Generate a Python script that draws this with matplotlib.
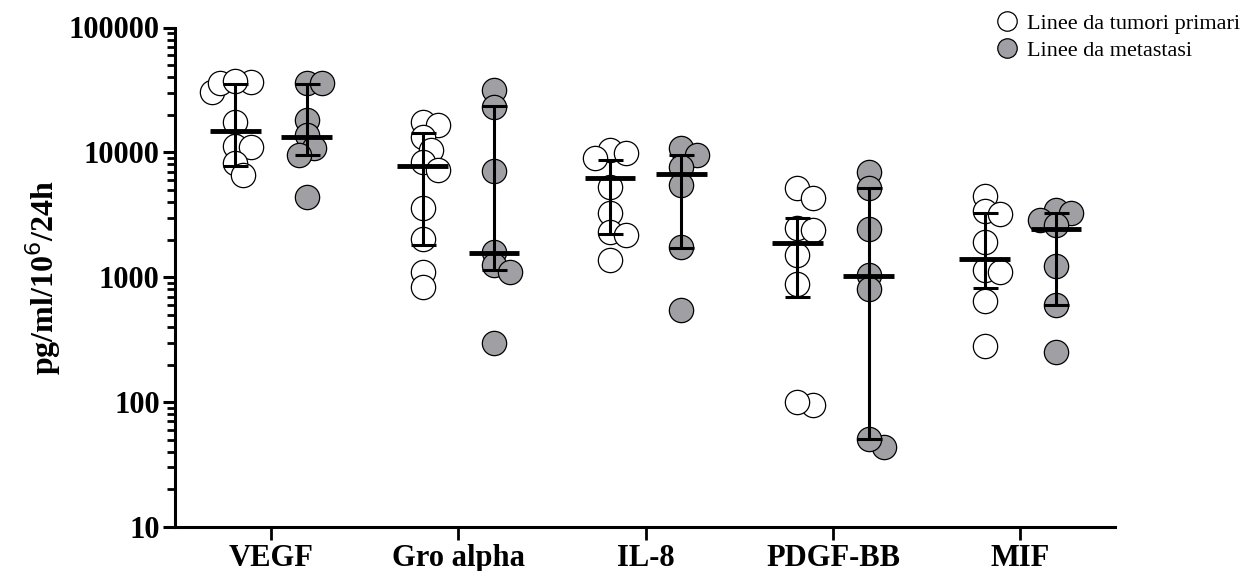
import matplotlib
matplotlib.use("Agg")
import matplotlib.pyplot as plt
import numpy as np
from matplotlib.lines import Line2D
from matplotlib.ticker import LogLocator, NullFormatter, FixedLocator

plt.rcParams['font.family'] = ['Liberation Serif', 'DejaVu Serif']

categories = ["VEGF", "Gro alpha", "IL-8", "PDGF-BB", "MIF"]

# singole linee cellulari (pg/ml/10^6/24h)
primari = [
    [30400, 36600, 36000, 37000, 17500, 11200, 11000, 8200, 6600],
    [17600, 16500, 13300, 10400, 8400, 7200, 3560, 2010, 1100, 840],
    [10400, 9800, 9000, 5300, 3240, 2310, 2170, 1370],
    [5150, 4280, 2460, 2380, 1500, 890, 94, 100],
    [4500, 3400, 3200, 1900, 1150, 1100, 650, 280],
]
metastasi = [
    [35700, 35700, 18100, 13800, 10800, 9500, 4400],
    [31600, 23200, 7100, 1600, 1250, 1100, 295],
    [10800, 9500, 7700, 5500, 1750, 545],
    [7000, 5150, 2430, 1040, 810, 44, 51],
    [3450, 3300, 2870, 2620, 1230, 600, 250],
]

# linea centrale e barre
primari_centro = [14800, 7800, 6200, 1870, 1400]
primari_basso = [7800, 1810, 2200, 700, 820]
primari_alto = [35300, 14200, 8700, 2960, 3250]
metastasi_centro = [13300, 1550, 6700, 1020, 2430]
metastasi_basso = [9500, 1140, 1730, 51, 600]
metastasi_alto = [35300, 23500, 9500, 5150, 3280]

legend_labels = ["Linee da tumori primari", "Linee da metastasi"]

GRIGIO = "#a0a0a4"
SHIFT = 0.19
MS = 17.5


def swarm(ax, xc, values, diam_px):
    """piccolo beeswarm stretto: i cerchi si possono sovrapporre un po'"""
    tr = ax.transData
    px_per_x = tr.transform((xc + 1, 1))[0] - tr.transform((xc, 1))[0]
    order = np.argsort(values)[::-1]
    placed = []
    xs = np.zeros(len(values))
    step = 0.32 * diam_px
    for i in order:
        ypx = tr.transform((xc, values[i]))[1]
        for k in [0, 1, -1, 2, -2, 3, -3]:
            xpx = k * step
            if all((xpx - a) ** 2 + (ypx - b) ** 2 >= (0.55 * diam_px) ** 2 for a, b in placed):
                break
        placed.append((xpx, ypx))
        xs[i] = xc + xpx / px_per_x
    return xs


fig = plt.figure(figsize=(12.52, 5.71), dpi=100)
ax = fig.add_axes([175 / 1252, 1 - 527 / 571, (1115 - 175) / 1252, (527 - 27.5) / 571])
ax.set_yscale("log")
ax.set_ylim(10, 100000)
ax.set_xlim(0.487, 5.506)

pos = np.arange(1, len(categories) + 1)
diam = MS * 100 / 72

for i, c in enumerate(pos):
    xo = swarm(ax, c - SHIFT, np.array(primari[i]), diam)
    ax.plot(xo, primari[i], 'o', ms=MS, mfc="white", mec="black", mew=0.9, zorder=2)
    xf = swarm(ax, c + SHIFT, np.array(metastasi[i]), diam)
    ax.plot(xf, metastasi[i], 'o', ms=MS, mfc=GRIGIO, mec="black", mew=0.9, zorder=2)

for centro, basso, alto, dx in [(primari_centro, primari_basso, primari_alto, -SHIFT),
                                (metastasi_centro, metastasi_basso, metastasi_alto, SHIFT)]:
    centro = np.array(centro)
    yerr = [centro - np.array(basso), np.array(alto) - centro]
    ax.errorbar(pos + dx, centro, yerr=yerr, fmt="none", ecolor="black",
                elinewidth=2.2, capsize=9, capthick=2.2, zorder=4)
    ax.hlines(centro, pos + dx - 0.135, pos + dx + 0.135, colors="black", lw=3.5, zorder=5)

ax.spines["top"].set_visible(False)
ax.spines["right"].set_visible(False)
ax.spines["left"].set_linewidth(2.2)
ax.spines["bottom"].set_linewidth(2.2)

ax.set_xticks(pos)
ax.set_xticklabels(categories, fontsize=22, fontweight="bold")
ax.yaxis.set_major_locator(FixedLocator([10, 100, 1000, 10000, 100000]))
ax.set_yticklabels(["10", "100", "1000", "10000", "100000"], fontsize=22, fontweight="bold")
ax.yaxis.set_minor_locator(LogLocator(base=10, subs=np.arange(2, 10)))
ax.yaxis.set_minor_formatter(NullFormatter())
ax.tick_params(axis="y", which="major", length=9, width=2.2, pad=2)
ax.tick_params(axis="y", which="minor", length=6, width=2)
ax.tick_params(axis="x", which="major", length=9, width=2, pad=3)

ax.set_ylabel(r"pg/ml/10$^{6}$/24h", fontsize=23, fontweight="bold", labelpad=4)

handles = [
    Line2D([], [], ls="none", marker="o", ms=14, mfc="white", mec="black", mew=0.9),
    Line2D([], [], ls="none", marker="o", ms=14, mfc=GRIGIO, mec="black", mew=0.9),
]
fig.legend(handles, legend_labels, loc="upper left", bbox_to_anchor=(980 / 1252, 1.0),
           frameon=False, fontsize=16, handletextpad=0.3, labelspacing=0.3,
           borderaxespad=0.2, handlelength=1.2)

fig.savefig("out.png", dpi=100)
